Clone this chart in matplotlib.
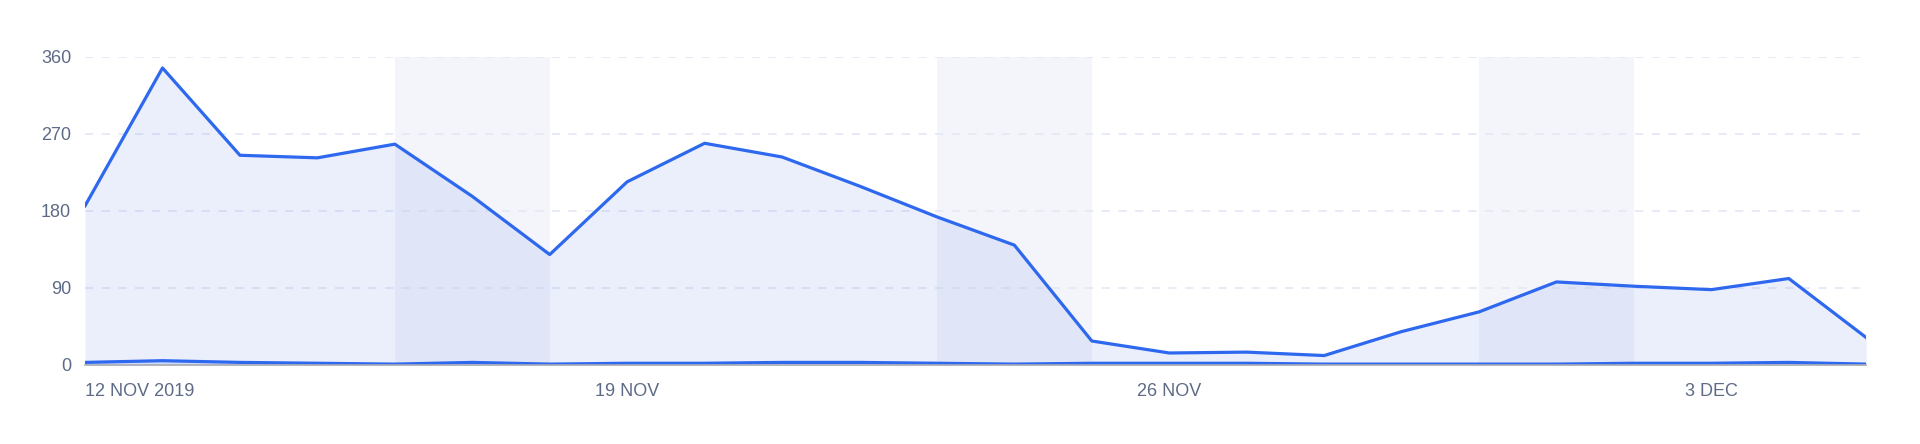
import numpy as np
import pandas as pd
import matplotlib
matplotlib.use('Agg')
import matplotlib.pyplot as plt

# Data
dates = pd.date_range('2019-11-12', '2019-12-05', freq='D')
main_values = [186, 347, 245, 242, 258, 197, 129, 214, 259, 243, 209, 173,
               140, 28, 14, 15, 11, 39, 62, 97, 92, 88, 101, 32]
small_values = [3, 5, 3, 2, 1, 3, 1, 2, 2, 3, 3, 2,
                1, 2, 2, 2, 1, 1, 1, 1, 2, 2, 3, 1]
weekends = [('2019-11-16', '2019-11-18'),
            ('2019-11-23', '2019-11-25'),
            ('2019-11-30', '2019-12-02')]
tick_dates = ['2019-11-12', '2019-11-19', '2019-11-26', '2019-12-03']
tick_labels = ['12 NOV 2019', '19 NOV', '26 NOV', '3 DEC']
y_ticks = [0, 90, 180, 270, 360]

plt.rcParams['font.family'] = ['Liberation Sans', 'DejaVu Sans']

line_color = '#2e68ef'
text_color = '#5d6b86'

fig = plt.figure(figsize=(19.2, 4.44), dpi=100)
ax = fig.add_axes([0.0443, 0.178, 0.9277, 0.694])

# weekend shading
for start, end in weekends:
    ax.axvspan(pd.Timestamp(start), pd.Timestamp(end), color='#f3f5fa', zorder=0, lw=0)

# series
ax.fill_between(dates, main_values, color='#3d63e0', alpha=0.1, lw=0, zorder=1)
ax.plot(dates, main_values, color=line_color, lw=2.3, zorder=3)
ax.fill_between(dates, small_values, color=line_color, alpha=0.15, lw=0, zorder=2)
ax.plot(dates, small_values, color=line_color, lw=2.3, zorder=3)

ax.set_xlim(dates[0], dates[-1])
ax.set_ylim(0, 360)

# grid
for v in y_ticks[1:]:
    ax.axhline(v, color='#e4e8f6', lw=1.2, ls=(0, (5, 5)), zorder=0.5)

for s in ['top', 'right', 'left']:
    ax.spines[s].set_visible(False)
ax.spines['bottom'].set_color('#a9acb3')
ax.spines['bottom'].set_linewidth(1.2)
ax.spines['bottom'].set_zorder(4)

ax.set_yticks(y_ticks)
ax.set_yticklabels([str(v) for v in y_ticks])
ax.tick_params(axis='y', length=0, pad=10, labelsize=13, labelcolor=text_color)

ax.set_xticks([pd.Timestamp(d) for d in tick_dates])
ax.set_xticklabels(tick_labels)
ax.tick_params(axis='x', length=0, pad=13, labelsize=13, labelcolor=text_color)
ax.get_xticklabels()[0].set_horizontalalignment('left')

fig.savefig('out.png', dpi=100, facecolor='white')
